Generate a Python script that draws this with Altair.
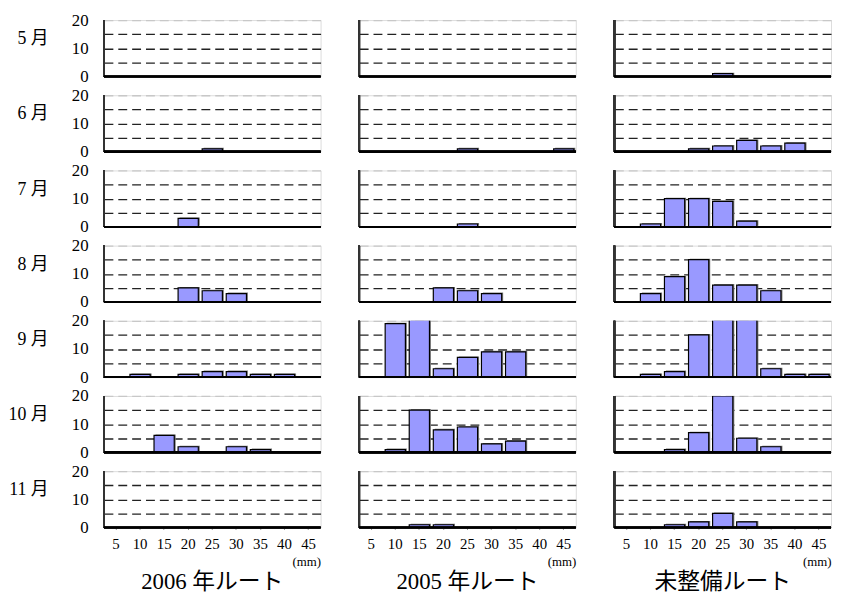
import altair as alt
import pandas as pd

months = ["5 月", "6 月", "7 月", "8 月", "9 月", "10 月", "11 月"]
routes = ["2006 年ルート", "2005 年ルート", "未整備ルート"]
sizes = ["5", "10", "15", "20", "25", "30", "35", "40", "45"]

# counts per month (rows) and size class (columns 5..45 mm)
route_2006 = [
    [0, 0, 0, 0, 0, 0, 0, 0, 0],
    [0, 0, 0, 0, 1, 0, 0, 0, 0],
    [0, 0, 0, 3, 0, 0, 0, 0, 0],
    [0, 0, 0, 5, 4, 3, 0, 0, 0],
    [0, 1, 0, 1, 2, 2, 1, 1, 0],
    [0, 0, 6, 2, 0, 2, 1, 0, 0],
    [0, 0, 0, 0, 0, 0, 0, 0, 0],
]
route_2005 = [
    [0, 0, 0, 0, 0, 0, 0, 0, 0],
    [0, 0, 0, 0, 1, 0, 0, 0, 1],
    [0, 0, 0, 0, 1, 0, 0, 0, 0],
    [0, 0, 0, 5, 4, 3, 0, 0, 0],
    [0, 19, 24, 3, 7, 9, 9, 0, 0],
    [0, 1, 15, 8, 9, 3, 4, 0, 0],
    [0, 0, 1, 1, 0, 0, 0, 0, 0],
]
route_none = [
    [0, 0, 0, 0, 1, 0, 0, 0, 0],
    [0, 0, 0, 1, 2, 4, 2, 3, 0],
    [0, 1, 10, 10, 9, 2, 0, 0, 0],
    [0, 3, 9, 15, 6, 6, 4, 0, 0],
    [0, 1, 2, 15, 25, 25, 3, 1, 1],
    [0, 0, 1, 7, 20, 5, 2, 0, 0],
    [0, 0, 1, 2, 5, 2, 0, 0, 0],
]

records = []
for route, table in zip(routes, [route_2006, route_2005, route_none]):
    for month, vals in zip(months, table):
        for s, v in zip(sizes, vals):
            records.append({"route": route, "month": month, "size": s, "count": v})
df = pd.DataFrame(records)

W, H = 219, 57
SERIF = "Liberation Serif, 'Noto Sans CJK JP'"

x_enc = alt.X(
    "size:N", sort=sizes,
    scale=alt.Scale(domain=sizes, paddingInner=0.16, paddingOuter=0.08),
    axis=alt.Axis(
        title="(mm)", titleAnchor="end", titleAlign="right", titleFont=SERIF,
        titleFontSize=13, titleFontWeight="normal", titlePadding=4,
        labelFont=SERIF, labelFontSize=15, labelAngle=0, labelPadding=7,
        domain=False, ticks=True, tickSize=2, tickColor="#999",
        labelColor="#000",
    ),
)
y_enc = alt.Y(
    "count:Q",
    scale=alt.Scale(domain=[0, 20]),
    axis=alt.Axis(
        values=[0, 5, 10, 15, 20],
        labelExpr="datum.value % 10 === 0 ? datum.label : ''",
        title=None, domain=False, ticks=False, labelPadding=16,
        labelFont=SERIF, labelFontSize=17, labelColor="#000",
        grid=True, gridDash=[9, 5], gridWidth=1.3,
        gridColor={
            "condition": [
                {"test": "datum.value === 20", "value": "#c8c8c8"},
                {"test": "datum.value === 0", "value": "transparent"},
            ],
            "value": "#222",
        },
    ),
)

base = alt.Chart().encode(x=x_enc, y=y_enc).transform_filter("datum.count > 0")
shadow = base.mark_bar(color="#7a7a7a", xOffset=1.5, yOffset=-1, clip=True)
bars = base.mark_bar(fill="#9999FF", stroke="#000", strokeWidth=1.2, clip=True)

vrule = alt.Chart().mark_rule(color="#333", strokeWidth=1.8).encode(
    x=alt.value(0), y=alt.value(0), y2=alt.value(H)
)
hrule = alt.Chart().mark_rule(color="#000", strokeWidth=1.6).encode(
    x=alt.value(0), x2=alt.value(W), y=alt.value(H)
)

layered = alt.layer(shadow, bars, vrule, hrule, data=df).properties(width=W, height=H)

chart = layered.facet(
    row=alt.Row(
        "month:N", sort=months, title=None,
        header=alt.Header(
            labelOrient="left", labelAngle=0, labelAlign="left",
            labelAnchor="middle", labelBaseline="bottom",
            labelFont=SERIF, labelFontSize=18, labelFontWeight="normal",
            labelPadding=23,
        ),
    ),
    column=alt.Column(
        "route:N", sort=routes, title=None,
        header=alt.Header(
            labelOrient="bottom", labelFont=SERIF, labelFontSize=23,
            labelFontWeight="normal", labelPadding=3,
        ),
    ),
    spacing={"row": 19, "column": 39},
    bounds="flush",
).properties(
    padding={"left": 0, "top": 0, "right": 0, "bottom": 0}
).configure_view(stroke=None).configure(background="white")

chart.save("out.html", embed_options={"renderer": "svg", "actions": False})
